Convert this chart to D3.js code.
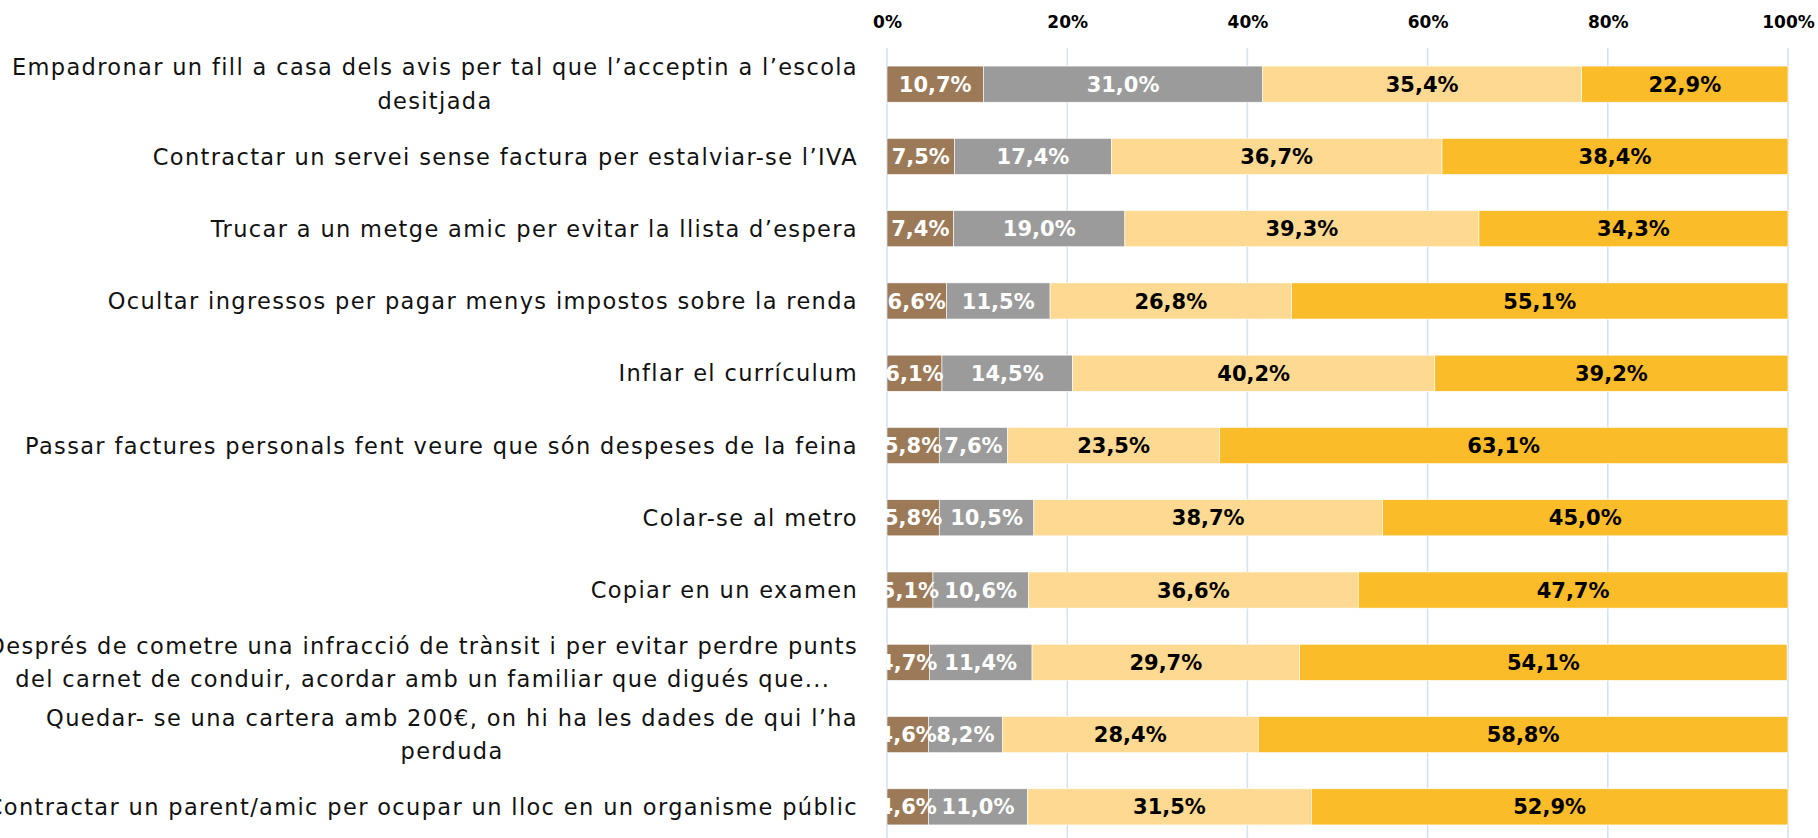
<!DOCTYPE html>
<html>
<head>
<meta charset="utf-8">
<script src="https://cdn.jsdelivr.net/npm/d3@7"></script>
<style>
  html, body { margin: 0; padding: 0; background: #fff; overflow: hidden; }
</style>
</head>
<body>
<svg id="chart"></svg>
<script>
// each category is split into the lines it is shown on
const categories = [
  ["Empadronar un fill a casa dels avis per tal que l’acceptin a l’escola", "desitjada"],
  ["Contractar un servei sense factura per estalviar-se l’IVA"],
  ["Trucar a un metge amic per evitar la llista  d’espera"],
  ["Ocultar ingressos per pagar menys impostos sobre la renda"],
  ["Inflar el currículum"],
  ["Passar factures personals fent veure que són despeses de la feina"],
  ["Colar-se al metro"],
  ["Copiar en un examen"],
  ["Després de cometre una infracció de trànsit i per evitar perdre punts", "del carnet de conduir, acordar amb un familiar que digués que..."],
  ["Quedar- se una cartera amb 200€, on hi ha les dades de qui l’ha", "perduda"],
  ["Contractar un parent/amic per ocupar un lloc en un organisme públic"]
];

const serie1 = [10.7, 7.5, 7.4, 6.6, 6.1, 5.8, 5.8, 5.1, 4.7, 4.6, 4.6];
const serie2 = [31.0, 17.4, 19.0, 11.5, 14.5, 7.6, 10.5, 10.6, 11.4, 8.2, 11.0];
const serie3 = [35.4, 36.7, 39.3, 26.8, 40.2, 23.5, 38.7, 36.6, 29.7, 28.4, 31.5];
const serie4 = [22.9, 38.4, 34.3, 55.1, 39.2, 63.1, 45.0, 47.7, 54.1, 58.8, 52.9];

const tickValues = [0, 20, 40, 60, 80, 100];

const colors = ["#9c7a58", "#9b9b9b", "#fdd992", "#fbbc2a"];
const textColors = ["#fff", "#fff", "#000", "#000"];

const width = 1818, height = 838;
const margin = { top: 48, right: 30, bottom: 0, left: 887 };

const svg = d3.select("#chart")
  .attr("width", width)
  .attr("height", height);

const x = d3.scaleLinear()
  .domain([0, 100])
  .range([margin.left, width - margin.right]);

const y = d3.scaleBand()
  .domain(d3.range(categories.length))
  .range([margin.top, 843])
  .paddingInner(0.5)
  .paddingOuter(0.25);

const rows = categories.map((c, i) => ({
  i: i,
  values: [serie1[i], serie2[i], serie3[i], serie4[i]]
}));
const stack = d3.stack().keys([0, 1, 2, 3]).value((d, k) => d.values[k]);
const series = stack(rows);

// grid
svg.append("g")
  .selectAll("line")
  .data(tickValues)
  .enter()
  .append("line")
  .attr("x1", d => x(d))
  .attr("x2", d => x(d))
  .attr("y1", margin.top)
  .attr("y2", height)
  .attr("stroke", "#d2e1f3")
  .attr("stroke-width", 1.5);

// top axis
const axis = svg.append("g")
  .attr("transform", `translate(0, 28)`)
  .call(d3.axisTop(x).tickValues(tickValues).tickFormat(d => d + "%").tickSize(0).tickPadding(0));
axis.select(".domain").remove();
axis.selectAll("text")
  .attr("font-family", "'DejaVu Sans', sans-serif")
  .attr("font-weight", 700)
  .attr("font-size", 17)
  .attr("fill", "#000");

// bars
const layers = svg.append("g")
  .selectAll("g")
  .data(series)
  .enter()
  .append("g")
  .attr("fill", (d, k) => colors[k]);

layers.selectAll("rect")
  .data(d => d)
  .enter()
  .append("rect")
  .attr("x", d => x(d[0]))
  .attr("y", d => y(d.data.i))
  .attr("width", d => x(d[1]) - x(d[0]))
  .attr("height", y.bandwidth())
  .attr("stroke", "white")
  .attr("stroke-width", 0.6);

const fmt = v => v.toFixed(1).replace(".", ",") + "%";

series.forEach((s, k) => {
  svg.append("g")
    .selectAll("text")
    .data(s)
    .enter()
    .append("text")
    .attr("x", d => x((d[0] + d[1]) / 2))
    .attr("y", d => y(d.data.i) + y.bandwidth() / 2)
    .attr("dy", "0.36em")
    .attr("text-anchor", "middle")
    .attr("font-family", "'DejaVu Sans', sans-serif")
    .attr("font-weight", 700)
    .attr("font-size", 21)
    .attr("fill", textColors[k])
    .text(d => fmt(d[1] - d[0]));
});

// category labels, right edge at 858, wrapped lines centred on the widest line
const lineH = 33.6;
const labelRight = 858;
categories.forEach((lines, i) => {
  const g = svg.append("text")
    .attr("font-family", "'DejaVu Sans', sans-serif")
    .attr("font-size", 22.5)
    .attr("letter-spacing", 1.35)
    .attr("fill", "#111")
    .attr("text-anchor", "middle");
  const cy = y(i) + y.bandwidth() / 2;
  const spans = g.selectAll("tspan")
    .data(lines)
    .enter()
    .append("tspan")
    .attr("y", (d, j) => cy + (j - (lines.length - 1) / 2) * lineH)
    .attr("dy", "0.36em")
    .text(d => d);
  let maxW = 0;
  spans.each(function() { maxW = Math.max(maxW, this.getComputedTextLength()); });
  spans.attr("x", labelRight - maxW / 2);
});
</script>
</body>
</html>
